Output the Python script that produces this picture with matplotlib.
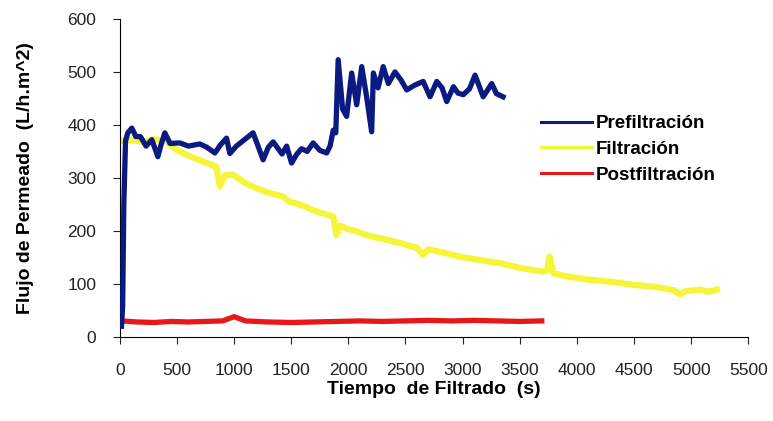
import matplotlib
matplotlib.use('Agg')
from matplotlib import pyplot as plt

# Prefiltracion (blue)
t_pre = [15, 25, 35, 50, 70, 105, 140, 180, 230, 280, 333, 360, 394, 440, 525, 600,
         700, 760, 832, 880, 934, 963, 1020, 1090, 1166, 1210, 1254, 1300, 1342, 1420,
         1460, 1503, 1550, 1590, 1640, 1692, 1750, 1810, 1840, 1868, 1890, 1911, 1950,
         1985, 2029, 2073, 2117, 2160, 2204, 2219, 2260, 2305, 2350, 2408, 2460, 2511,
         2580, 2655, 2715, 2774, 2820, 2861, 2920, 2960, 3006, 3060, 3109, 3180, 3255,
         3296, 3354]
pre = [20, 60, 250, 370, 385, 394, 378, 378, 360, 372, 340, 362, 385, 365, 366, 360,
       364, 358, 347, 362, 375, 346, 360, 372, 385, 360, 334, 358, 368, 345,
       360, 328, 345, 355, 350, 366, 352, 347, 360, 390, 385, 523, 430,
       416, 498, 438, 510, 453, 387, 498, 470, 510, 478, 500, 485, 466,
       475, 482, 453, 482, 470, 444, 472, 460, 457, 468, 494, 453, 478,
       459, 453]

# Filtracion (yellow)
t_fil = [0, 100, 200, 300, 400, 496, 600, 700, 845, 876, 920, 990, 1100, 1200, 1300,
         1428, 1486, 1600, 1700, 1868, 1897, 1930, 1985, 2100, 2160, 2300, 2452, 2600,
         2650, 2700, 2850, 3000, 3150, 3328, 3500, 3707, 3740, 3760, 3795, 3912, 4100,
         4300, 4496, 4700, 4850, 4904, 4950, 5080, 5150, 5226]
fil = [370, 372, 368, 373, 370, 353, 342, 333, 321, 284, 305, 306, 290, 280, 272,
       265, 255, 248, 238, 227, 192, 210, 204, 197, 192, 185, 177, 168,
       155, 165, 158, 150, 145, 139, 130, 123, 125, 152, 120, 114, 108,
       104, 98, 94, 88, 80, 86, 89, 85, 89]

# Postfiltracion (red)
t_post = [20, 150, 300, 450, 600, 750, 900, 1000, 1100, 1300, 1500, 1700, 1900, 2100,
          2300, 2500, 2700, 2900, 3100, 3300, 3500, 3693]
post = [30, 28, 27, 29, 28, 29, 30, 38, 30, 28, 27, 28, 29, 30,
        29, 30, 31, 30, 31, 30, 29, 30]

plt.rcParams['font.family'] = ['Liberation Sans', 'DejaVu Sans']

fig = plt.figure(dpi=100, figsize=(7.73, 4.21))
ax = fig.add_axes([0.155, 0.2, 0.813, 0.755])

ax.plot(t_pre, pre, c='#0a1a80', lw=3.8, label='Prefiltración', zorder=3)
ax.plot(t_fil, fil, c='#f5f53a', lw=4.5, label='Filtración', zorder=2)
ax.plot(t_post, post, c='#e81818', lw=3.8, label='Postfiltración', zorder=2)

ax.set_xlim(0, 5500)
ax.set_ylim(0, 600)
ax.set_xticks(range(0, 5501, 500))
ax.set_yticks(range(0, 601, 100))
ax.spines['top'].set_visible(False)
ax.spines['right'].set_visible(False)
ax.tick_params(axis='both', direction='out', length=5, labelsize=12.5, colors='#222222')
ax.tick_params(axis='x', pad=14)
ax.tick_params(axis='y', pad=12)

ax.set_xlabel('Tiempo  de Filtrado  (s)', fontsize=14, fontweight='bold', labelpad=2)
ax.set_ylabel('Flujo de Permeado  (L/h.m^2)', fontsize=14, fontweight='bold', labelpad=24)

leg = ax.legend(loc='upper left', bbox_to_anchor=(0.67, 0.697), frameon=False,
                prop={'weight': 'bold', 'size': 13.5}, borderaxespad=0, borderpad=0,
                handlelength=2.75, handletextpad=0.15, labelspacing=0.45)
for line in leg.get_lines():
    line.set_linewidth(2.2)

fig.savefig('out.png', dpi=100)
